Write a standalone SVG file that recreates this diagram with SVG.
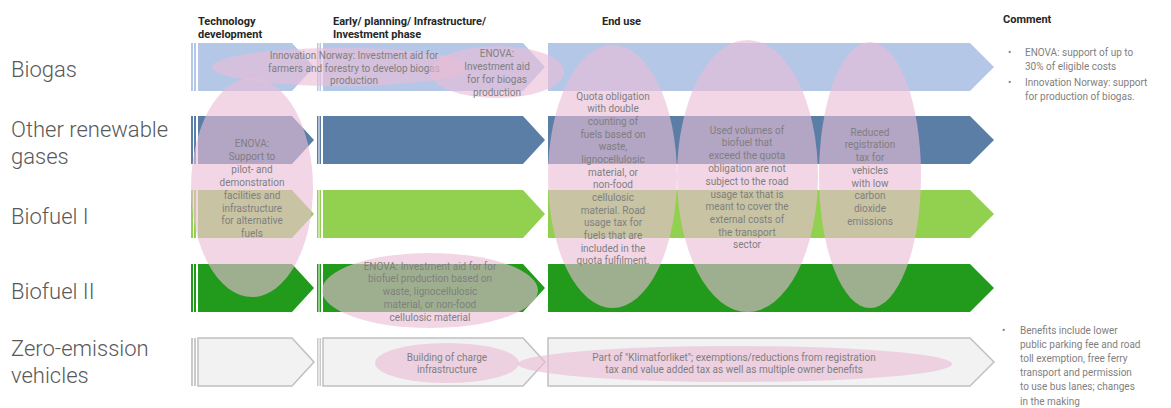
<svg xmlns="http://www.w3.org/2000/svg" width="1171" height="408" viewBox="0 0 1171 408">
<style>
.lbl{font-family:Roboto,'Liberation Sans',sans-serif;font-size:22px;font-weight:300;fill:#595959}
.hdr{font-family:Roboto,'Liberation Sans',sans-serif;font-size:11px;font-weight:bold;fill:#262626}
.et{font-family:Roboto,'Liberation Sans',sans-serif;font-size:10px;fill:#7f7f7f;text-anchor:middle}
.cm{font-family:Roboto,'Liberation Sans',sans-serif;font-size:10px;fill:#7f7f7f}
.ell{fill:#eabdd7;fill-opacity:0.62}
.zev{fill:#f2f2f2;stroke:#c0c0c0;stroke-width:1.5}
.zs{fill:#c9c9c9}
</style>
<rect width="1171" height="408" fill="#ffffff"/>

<g id="headers">
<text class="hdr" x="198" y="25">Technology</text>
<text class="hdr" x="198" y="38">development</text>
<text class="hdr" x="333" y="25">Early/ planning/ Infrastructure/</text>
<text class="hdr" x="333" y="38">Investment phase</text>
<text class="hdr" x="602" y="25">End use</text>
<text class="hdr" x="1003" y="23">Comment</text>
</g>

<g id="labels">
<text class="lbl" x="11" y="77">Biogas</text>
<text class="lbl" x="11" y="137">Other renewable</text>
<text class="lbl" x="11" y="164">gases</text>
<text class="lbl" x="11" y="224">Biofuel I</text>
<text class="lbl" x="11" y="299">Biofuel II</text>
<text class="lbl" x="11" y="356">Zero-emission</text>
<text class="lbl" x="11" y="383">vehicles</text>
</g>

<g id="row-biogas" fill="#b4c7e7">
<rect x="191" y="43" width="2" height="48"/><rect x="194" y="43" width="2" height="48"/>
<path d="M198,43 H292 L314,67 L292,91 H198 Z"/>
<rect x="317" y="43" width="1.5" height="48"/><rect x="319.5" y="43" width="1.5" height="48"/>
<path d="M323,43 H523 L545,67 L523,91 H323 Z"/>
<path d="M548,43 H970 L994,67 L970,91 H548 Z"/>
</g>
<g id="row-other" fill="#5b7ea6">
<rect x="191" y="116" width="2" height="48"/><rect x="194" y="116" width="2" height="48"/>
<path d="M198,116 H292 L314,140 L292,164 H198 Z"/>
<rect x="317" y="116" width="1.5" height="48"/><rect x="319.5" y="116" width="1.5" height="48"/>
<path d="M323,116 H523 L545,140 L523,164 H323 Z"/>
<path d="M548,116 H970 L994,140 L970,164 H548 Z"/>
</g>
<g id="row-biofuel1" fill="#92d050">
<rect x="191" y="190" width="2" height="48"/><rect x="194" y="190" width="2" height="48"/>
<path d="M198,190 H292 L314,214 L292,238 H198 Z"/>
<rect x="317" y="190" width="1.5" height="48"/><rect x="319.5" y="190" width="1.5" height="48"/>
<path d="M323,190 H523 L545,214 L523,238 H323 Z"/>
<path d="M548,190 H970 L994,214 L970,238 H548 Z"/>
</g>
<g id="row-biofuel2" fill="#229a1b">
<rect x="191" y="264" width="2" height="48"/><rect x="194" y="264" width="2" height="48"/>
<path d="M198,264 H292 L314,288 L292,312 H198 Z"/>
<rect x="317" y="264" width="1.5" height="48"/><rect x="319.5" y="264" width="1.5" height="48"/>
<path d="M323,264 H523 L545,288 L523,312 H323 Z"/>
<path d="M548,264 H970 L994,288 L970,312 H548 Z"/>
</g>
<g id="row-zev">
<rect class="zs" x="191" y="338" width="2" height="48"/><rect class="zs" x="194" y="338" width="2" height="48"/>
<path class="zev" d="M198,338 H292 L314,362 L292,386 H198 Z"/>
<rect class="zs" x="317" y="338" width="1.5" height="48"/><rect class="zs" x="319.5" y="338" width="1.5" height="48"/>
<path class="zev" d="M323,338 H523 L545,362 L523,386 H323 Z"/>
<path class="zev" d="M548,338 H970 L994,362 L970,386 H548 Z"/>
</g>

<g id="connectors"></g>

<g id="innovation-norway">
<ellipse class="ell" cx="341" cy="67" rx="129" ry="19"/>
<text class="et" x="354" y="58.5">Innovation Norway: Investment aid for</text>
<text class="et" x="354" y="71.5">farmers and forestry to develop biogas</text>
<text class="et" x="354" y="83.5">production</text>
</g>
<g id="enova-biogas">
<ellipse class="ell" cx="497" cy="72" rx="67" ry="26"/>
<text class="et" x="497" y="56.5">ENOVA:</text>
<text class="et" x="497" y="69.5">Investment aid</text>
<text class="et" x="497" y="83">for for biogas</text>
<text class="et" x="497" y="95.5">production</text>
</g>
<g id="enova-tech">
<ellipse class="ell" cx="252" cy="187.5" rx="61" ry="109.5"/>
<text class="et" x="252" y="146.5">ENOVA:</text>
<text class="et" x="252" y="159.5">Support to</text>
<text class="et" x="252" y="173">pilot- and</text>
<text class="et" x="252" y="185.5">demonstration</text>
<text class="et" x="252" y="198.5">facilities and</text>
<text class="et" x="252" y="211.5">infrastructure</text>
<text class="et" x="252" y="223.5">for alternative</text>
<text class="et" x="252" y="236.5">fuels</text>
</g>
<g id="quota">
<ellipse class="ell" cx="612.5" cy="176.5" rx="64.5" ry="131.5"/>
<text class="et" x="613" y="99.5">Quota obligation</text>
<text class="et" x="613" y="112">with double</text>
<text class="et" x="613" y="125">counting of</text>
<text class="et" x="613" y="137.5">fuels based on</text>
<text class="et" x="613" y="150">waste,</text>
<text class="et" x="613" y="163">lignocellulosic</text>
<text class="et" x="613" y="175.5">material, or</text>
<text class="et" x="613" y="188">non-food</text>
<text class="et" x="613" y="201">cellulosic</text>
<text class="et" x="613" y="213.5">material. Road</text>
<text class="et" x="613" y="226">usage tax for</text>
<text class="et" x="613" y="238.5">fuels that are</text>
<text class="et" x="613" y="251.5">included in the</text>
<text class="et" x="613" y="264">quota fulfilment.</text>
</g>
<g id="used-volumes">
<ellipse class="ell" cx="747.5" cy="176" rx="70.5" ry="136"/>
<text class="et" x="747" y="133.5">Used volumes of</text>
<text class="et" x="747" y="146">biofuel that</text>
<text class="et" x="747" y="159">exceed the quota</text>
<text class="et" x="747" y="172">obligation are not</text>
<text class="et" x="747" y="184.5">subject to the road</text>
<text class="et" x="747" y="197.5">usage tax that is</text>
<text class="et" x="747" y="210">meant to cover the</text>
<text class="et" x="747" y="223">external costs of</text>
<text class="et" x="747" y="235.5">the transport</text>
<text class="et" x="747" y="247.5">sector</text>
</g>
<g id="reduced-registration">
<ellipse class="ell" cx="870" cy="175" rx="51" ry="133"/>
<text class="et" x="870" y="135.5">Reduced</text>
<text class="et" x="870" y="148">registration</text>
<text class="et" x="870" y="161">tax for</text>
<text class="et" x="870" y="173.5">vehicles</text>
<text class="et" x="870" y="186.5">with low</text>
<text class="et" x="870" y="199">carbon</text>
<text class="et" x="870" y="212">dioxide</text>
<text class="et" x="870" y="224.5">emissions</text>
</g>
<g id="enova-biofuel2">
<ellipse class="ell" cx="430" cy="290.5" rx="108" ry="37.5"/>
<text class="et" x="430" y="269.5">ENOVA: Investment aid for for</text>
<text class="et" x="430" y="282">biofuel production based on</text>
<text class="et" x="430" y="295">waste, lignocellulosic</text>
<text class="et" x="430" y="307.5">material, or non-food</text>
<text class="et" x="430" y="320.5">cellulosic material</text>
</g>
<g id="charge-infrastructure">
<ellipse class="ell" cx="447" cy="363" rx="72" ry="20"/>
<text class="et" x="447" y="360.5">Building of charge</text>
<text class="et" x="447" y="373">infrastructure</text>
</g>
<g id="klimatforliket">
<ellipse class="ell" cx="735" cy="364" rx="217" ry="18"/>
<text class="et" x="734" y="360.5">Part of "Klimatforliket"; exemptions/reductions from registration</text>
<text class="et" x="734" y="373">tax and value added tax as well as multiple owner benefits</text>
</g>

<g id="comment-biogas">
<text class="cm" x="1008" y="56">•</text>
<text class="cm" x="1025" y="56">ENOVA: support of up to</text>
<text class="cm" x="1025" y="70">30% of eligible costs</text>
<text class="cm" x="1008" y="86">•</text>
<text class="cm" x="1025" y="86">Innovation Norway: support</text>
<text class="cm" x="1025" y="100">for production of biogas.</text>
</g>
<g id="comment-zev">
<text class="cm" x="1002" y="334">•</text>
<text class="cm" x="1020" y="334">Benefits include lower</text>
<text class="cm" x="1020" y="348">public parking fee and road</text>
<text class="cm" x="1020" y="362">toll exemption, free ferry</text>
<text class="cm" x="1020" y="376">transport and permission</text>
<text class="cm" x="1020" y="390">to use bus lanes;  changes</text>
<text class="cm" x="1020" y="405">in the making</text>
</g>
</svg>
